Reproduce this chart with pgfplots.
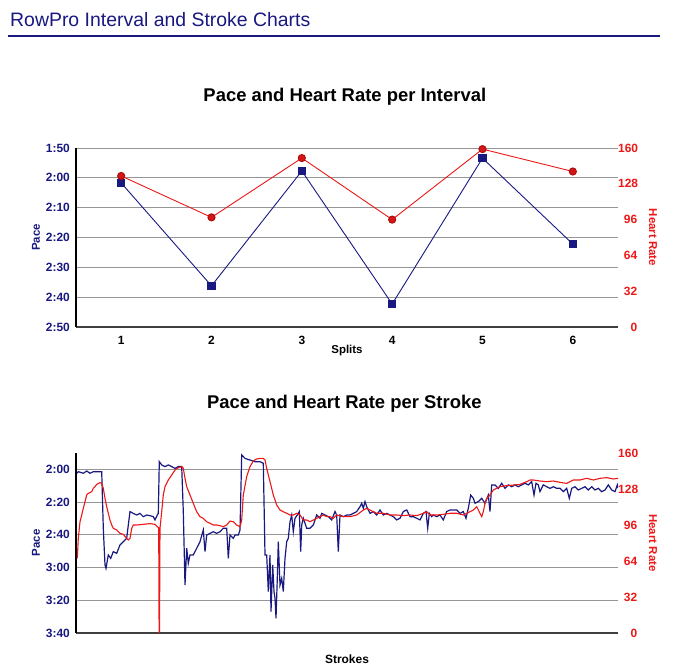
\documentclass[border=0pt]{standalone}
\usepackage{pgfplots}
\pgfplotsset{compat=1.18}
\usepackage{fontspec}
\setmainfont{Liberation Sans}
\definecolor{navy}{RGB}{24,24,128}
\definecolor{hrred}{RGB}{236,24,24}
\definecolor{hrdark}{RGB}{170,10,10}
\definecolor{gridgray}{RGB}{150,150,150}
\pgfplotsset{
  common/.style={
    scale only axis, width=542bp,
    major tick length=0pt,
    tick label style={font=\fontsize{12}{12}\selectfont\bfseries},
    label style={font=\fontsize{11.5}{12}\selectfont\bfseries},
  },
  leftax/.style={
    common,
    axis x line*=bottom, axis y line*=left,
    x axis line style={draw=black!75, line width=1.8bp},
    y axis line style={draw=black, line width=1.6bp},
    ymajorgrids, major grid style={gridgray, line width=0.8bp},
    y dir=reverse,
    yticklabel style={navy, inner sep=0pt, xshift=-6bp},
    ylabel style={navy, at={(axis description cs:-0.0738,0.5)}, anchor=center},
    ylabel={Pace},
  },
  rightax/.style={
    common,
    axis x line=none, axis y line*=right,
    y axis line style={draw=none},
    ymin=0, ymax=160, ytick={0,32,64,96,128,160},
    yticklabels={0,32,64,96,128,160},
    yticklabel style={hrred, inner sep=0pt, text width=19bp, align=right},
    ylabel style={hrred, rotate=180, at={(axis description cs:1.0646,0.5)}, anchor=center},
    ylabel={Heart Rate},
  },
}
\begin{document}
\begin{tikzpicture}
\path[use as bounding box] (0,0) rectangle (683bp,667bp);
\node[anchor=base west, inner sep=0pt, text=navy, font=\fontsize{19.5}{20}\selectfont] at (10bp,640.5bp) {RowPro Interval and Stroke Charts};
\draw[navy, line width=2.5bp] (8bp,631bp) -- (660bp,631bp);

% ---------- Top chart ----------
\begin{axis}[leftax, height=179bp, at={(76bp,340bp)}, anchor=south west,
  xmin=0.5, xmax=6.5, xtick={1,2,3,4,5,6}, xticklabels={1,2,3,4,5,6},
  xticklabel style={inner sep=0pt, yshift=-9bp, black},
  xlabel={Splits}, xlabel style={at={(axis description cs:0.5,0)}, anchor=center, yshift=-24bp},
  ymin=110, ymax=170, ytick={110,120,130,140,150,160,170},
  yticklabels={1:50,2:00,2:10,2:20,2:30,2:40,2:50},
  title={Pace and Heart Rate per Interval},
  title style={font=\fontsize{18.5}{19}\selectfont\bfseries, at={(axis description cs:0.496,1)}, anchor=center, yshift=45bp},
]
\addplot[navy, line width=0.9bp, mark=square*, mark size=3.6bp, mark options={fill=navy, draw=navy}]
  coordinates {(1,121.7) (2,156.2) (3,117.7) (4,162.3) (5,113.4) (6,142.2)};
\end{axis}
\begin{axis}[rightax, height=179bp, at={(76bp,340bp)}, anchor=south west,
  xmin=0.5, xmax=6.5]
\addplot[hrred, line width=0.9bp, mark=*, mark size=3.6bp, mark options={fill=hrred!90!black, draw=hrdark}]
  coordinates {(1,135) (2,98) (3,151) (4,96) (5,159) (6,139)};
\end{axis}

% ---------- Bottom chart ----------
\begin{axis}[leftax, height=180bp, at={(76bp,34bp)}, anchor=south west,
  xmin=0, xmax=542, xtick=\empty,
  xlabel={Strokes}, xlabel style={at={(axis description cs:0.5,0)}, anchor=center, yshift=-26bp, font=\fontsize{12}{12}\selectfont\bfseries},
  ymin=110, ymax=220, ytick={120,140,160,180,200,220},
  yticklabels={2:00,2:20,2:40,3:00,3:20,3:40},
  title={Pace and Heart Rate per Stroke},
  title style={font=\fontsize{18.5}{19}\selectfont\bfseries, at={(axis description cs:0.495,1)}, anchor=center, yshift=43bp},
]
\addplot[navy, line width=1.2bp] coordinates {
(1,122.4) (2.3,121.4) (7.3,122.4) (10.7,121.0) (14,122.4) (17.3,121.4) (20.7,121.4) (25.7,121.4)
(27.3,156) (29,178.4) (30,180.5) (32.3,172.3) (34.7,174.4) (37.3,170.3) (40.7,171.3) (44,166.2)
(47.3,164.2) (50.7,162.1) (52.3,154) (54,145.8) (57.3,146.9) (60.7,147.9) (64,146.9) (67.3,148.9)
(70.7,147.9) (74,148.3) (77.3,148.9) (79,150.9) (81.3,147.9) (82.3,146.9) (83.3,115.3) (85.7,117.3)
(89,118.3) (92.3,117.3) (95.7,118.3) (99,119.4) (102.3,118.3) (105.7,118.3) (107.3,145.8) (109,190.7)
(110.7,168.2) (112.3,177.4) (114,172.3) (117.3,172.3) (120.7,168.2) (124,164.2) (127.3,157) (129,170.3)
(130.7,160.1) (134,159.1) (137.3,158.1) (140.7,159.1) (144,158.1) (147.3,156) (150.7,156) (152.3,174.4)
(154,160.1) (157.3,162.1) (159,160.1) (162.3,160.1) (164,157) (165.7,111.2) (169,113.3) (174,114.3)
(179,115.3) (184,115.3) (187.3,116.3) (189,172.3) (190.7,172.3) (192.3,194.7) (194,172.3) (195,207)
(196.7,178.4) (198,194.7) (199,198.8) (200,211) (201.3,186.6) (202.3,164.2) (204,190.7) (205.7,186.6)
(207.3,194.7) (209,174.4) (210.7,164.2) (212.3,162.1) (214,152) (215.7,147.9) (217.3,158.1) (219,149.9)
(221.3,147.9) (223.3,145.8) (224.7,170.3) (225.7,154) (227.3,149.9) (230.7,156) (234,156) (237.3,154)
(240.7,147.9) (244,149.9) (245.7,146.9) (249,147.9) (252.3,148.9) (255.7,150.9) (259,145.8) (260.7,147.9)
(262.3,170.3) (264,147.9) (267.3,148.9) (270.7,147.9) (274,147.9) (277.3,146.9) (280.7,145.8) (284,142.8)
(285.7,140.7) (287.3,143.8) (289,139.7) (290.7,142.8) (294,146.9) (297.3,145.8) (300.7,147.9) (304,144.8)
(307.3,147.9) (310.7,146.9) (314,147.9) (317.3,148.9) (320.7,150.9) (324,149.9) (327.3,145.8) (330.7,144.8)
(334,148.9) (337.3,148.9) (340.7,149.9) (344,150.9) (347.3,146.9) (350,145.8) (351.7,156) (353.3,146.9)
(355.7,148.9) (357.3,147.9) (360.7,148.9) (364,147.9) (367.3,150.9) (370.7,145.8) (374,144.8) (377.3,144.8)
(380.7,144.8) (384,146.9) (387.3,145.8) (390,149.9) (392.3,143.8) (394.7,135.7) (397.3,137.7) (399,140.7)
(402.3,139.7) (405.7,137.7) (409,140.7) (412.3,135.7) (414,145.8) (415.7,129.5) (419,129.5) (422.3,131.6)
(425.7,128.5) (429,131.6) (432.3,129.5) (435.7,130.6) (439,129.5) (442.3,130.6) (445.7,129.5) (449,128.5)
(452.3,129.5) (455.7,127.5) (458,135.7) (460,128.5) (462.3,129.5) (464,133.6) (467.3,129.5) (470.7,130.6)
(474,131.6) (477.3,130.6) (480.7,131.6) (484,131.6) (487.3,133.6) (490.7,131.6) (493.3,137.7) (495.7,131.6)
(499,130.6) (502.3,132.6) (505.7,131.6) (509,130.6) (512.3,132.6) (515.7,130.6) (519,132.6) (522.3,131.6)
(525.7,133.6) (529,132.6) (532.3,129.5) (535.7,132.6) (539,133.6) (541.3,129.5) (542,131.5)
};
\end{axis}
\begin{axis}[rightax, height=180bp, at={(76bp,34bp)}, anchor=south west,
  xmin=0, xmax=542]
\addplot[hrred, line width=1.1bp] coordinates {
(1.3,66.4) (2.3,84.1) (4,98.9) (5.7,104.9) (7.3,110.8) (9,116.7) (10.7,122.7) (12.3,124.1)
(15.7,125.6) (17.3,128.6) (19,130.1) (20.7,132.1) (24,133.6) (25.7,133.0) (27.3,128.6) (29,119.7)
(30.7,112.3) (32.3,106.4) (34,100.4) (35.7,96.0) (37.3,93.0) (40.7,91.5) (44,88.6) (47.3,87.7)
(50.7,84.1) (52.3,82.7) (54,84.1) (55.7,93.0) (57.3,96.0) (60.7,96.0) (67.3,96.6) (74,97.2)
(79,96.6) (81.3,94.5) (82.7,93.6) (83.1,0) (83.5,0) (84,93.0) (85.7,107.8) (87.3,122.7)
(89,130.1) (92.3,136.0) (95.7,140.4) (99,144.9) (102.3,146.9) (105.7,147.8) (107.3,146.4) (109,137.5)
(110.7,130.1) (114,122.7) (117.3,115.2) (120.7,107.8) (124,103.4) (127.3,101.9) (130.7,98.9) (134,97.5)
(137.3,96.0) (140.7,96.0) (144,95.4) (147.3,94.5) (150.7,96.0) (154,99.5) (157.3,98.9) (160.7,96.0)
(164,94.5) (165.7,100.4) (167.3,122.7) (170.7,139.0) (174,147.8) (177.3,152.9) (180.7,154.7) (184,155.2)
(187.3,155.2) (189,153.8) (190.7,146.4) (194,134.5) (197.3,122.7) (200.7,113.8) (204,109.3) (207.3,107.8)
(210.7,106.4) (214,104.9) (217.3,104.9) (220.7,106.4) (224,104.9) (227.3,100.4) (230.7,100.4) (234,98.9)
(237.3,100.4) (240.7,101.9) (244,103.4) (247.3,104.9) (250.7,103.4) (254,103.4) (257.3,101.9) (260.7,104.9)
(267.3,103.4) (274,103.4) (280.7,104.9) (287.3,109.3) (290.7,110.8) (294,109.3) (300.7,106.4) (307.3,106.4)
(314,104.9) (320.7,104.9) (327.3,104.3) (334,104.9) (340.7,104.3) (347.3,106.4) (350.7,107.8) (354,104.9)
(360.7,104.9) (367.3,105.5) (374,106.4) (380.7,106.4) (387.3,104.9) (390.7,106.4) (394,107.8) (397.3,109.3)
(400.7,112.3) (404,106.4) (405.7,103.4) (407.3,107.8) (409,115.2) (410.7,119.7) (414,122.7) (417.3,127.1)
(420.7,128.6) (424,130.1) (430.7,131.0) (437.3,131.5) (444,132.1) (450.7,134.5) (454,136.0) (457.3,136.0)
(464,135.1) (470.7,134.5) (477.3,135.1) (484,133.9) (490.7,133.0) (497.3,136.0) (504,136.0) (510.7,137.5)
(517.3,136.0) (524,137.5) (530.7,138.1) (537.3,136.9) (542,137.5)
};
\end{axis}
\end{tikzpicture}
\end{document}
